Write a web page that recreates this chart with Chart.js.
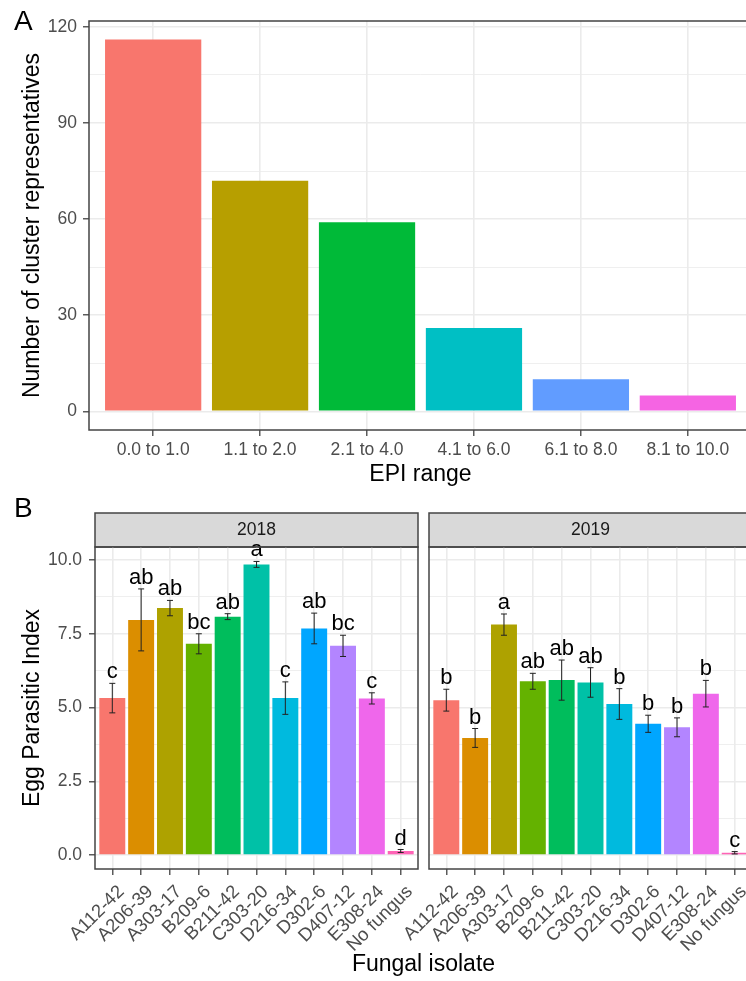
<!DOCTYPE html>
<html>
<head>
<meta charset="utf-8">
<title>EPI ranges and egg parasitic index</title>
<script src="https://cdn.jsdelivr.net/npm/chart.js@4.4.1/dist/chart.umd.min.js"></script>
<style>
  html, body { margin: 0; padding: 0; background: #fff; }
  #figure { position: relative; width: 746px; height: 981px; overflow: hidden; }
  #figure canvas, #figure .tag { position: absolute; display: block; }
  .tag { font-family: "Liberation Sans", Arial, sans-serif; color: #000; white-space: nowrap; }
</style>
</head>
<body>
<div id="figure">
  <canvas id="chartA" width="760" height="490" style="left:0;top:0"></canvas>
  <canvas id="chart2018" width="426" height="491" style="left:0;top:490px"></canvas>
  <canvas id="chart2019" width="381" height="491" style="left:380px;top:490px"></canvas>
  <div class="tag" style="left:14px;top:7px;font-size:28px;line-height:28px">A</div>
  <div class="tag" style="left:14px;top:494px;font-size:28px;line-height:28px">B</div>
  <div class="tag" style="left:95px;width:657px;text-align:center;top:952px;font-size:23px;line-height:22px">Fungal isolate</div>
</div>

<script>
// Panel A: cluster representatives per EPI range
const epiRanges = ['0.0 to 1.0', '1.1 to 2.0', '2.1 to 4.0', '4.1 to 6.0', '6.1 to 8.0', '8.1 to 10.0'];
const clusterCounts = [116, 72, 59, 26, 10, 5];
const rangeColors = ['#F8766D', '#B79F00', '#00BA38', '#00BFC4', '#619CFF', '#F564E3'];
const countTicks = [0, 30, 60, 90, 120];
const countMinorTicks = [15, 45, 75, 105];

// Panel B: egg parasitic index (mean, se) per fungal isolate and year
const isolates = ['A112-42', 'A206-39', 'A303-17', 'B209-6', 'B211-42', 'C303-20', 'D216-34', 'D302-6', 'D407-12', 'E308-24', 'No fungus'];
const isolateColors = ['#F8766D', '#DB8E00', '#AEA200', '#64B200', '#00BD5C', '#00C1A7', '#00BADE', '#00A6FF', '#B385FF', '#EF67EB', '#FF63B6'];
const epi2018 = [5.32, 7.97, 8.37, 7.16, 8.08, 9.85, 5.32, 7.68, 7.09, 5.31, 0.14];
const se2018 = [0.5, 1.05, 0.26, 0.34, 0.1, 0.1, 0.55, 0.52, 0.36, 0.19, 0.05];
const letters2018 = ['c', 'ab', 'ab', 'bc', 'ab', 'a', 'c', 'ab', 'bc', 'c', 'd'];
const epi2019 = [5.25, 3.97, 7.81, 5.89, 5.93, 5.85, 5.12, 4.45, 4.33, 5.47, 0.08];
const se2019 = [0.37, 0.32, 0.36, 0.27, 0.68, 0.5, 0.52, 0.29, 0.32, 0.45, 0.04];
const letters2019 = ['b', 'b', 'a', 'ab', 'ab', 'ab', 'b', 'b', 'b', 'b', 'c'];
const epiTicks = [0, 2.5, 5, 7.5, 10];
const epiTickLabels = ['0.0', '2.5', '5.0', '7.5', '10.0'];
const epiMinorTicks = [1.25, 3.75, 6.25, 8.75];

const FONT = '"Liberation Sans", Arial, sans-serif';
Chart.defaults.font.family = FONT;

// grey strip behind the facet title, and the panel border drawn on top
const panelDecor = {
  id: 'panelDecor',
  beforeDraw(chart, args, opts) {
    if (!opts.strip) return;
    const { left, right, top } = chart.chartArea;
    const ctx = chart.ctx;
    ctx.save();
    ctx.fillStyle = '#D9D9D9';
    ctx.fillRect(left, top - opts.strip, right - left, opts.strip);
    ctx.strokeStyle = '#444';
    ctx.lineWidth = 1.5;
    ctx.strokeRect(left, top - opts.strip, right - left, opts.strip);
    ctx.restore();
  },
  afterDraw(chart) {
    const { left, right, top, bottom } = chart.chartArea;
    const ctx = chart.ctx;
    ctx.save();
    ctx.strokeStyle = '#444';
    ctx.lineWidth = 1.5;
    ctx.strokeRect(left, top, right - left, bottom - top);
    ctx.restore();
  }
};

// mean +/- se whiskers and the significance letters above them
const errorBars = {
  id: 'errorBars',
  afterDatasetsDraw(chart, args, opts) {
    if (!opts.se) return;
    const { ctx, scales: { x, y } } = chart;
    ctx.save();
    ctx.strokeStyle = '#222';
    ctx.lineWidth = 1;
    ctx.fillStyle = '#000';
    ctx.font = '22px ' + FONT;
    ctx.textAlign = 'center';
    ctx.textBaseline = 'alphabetic';
    chart.data.datasets[0].data.forEach((pt, i) => {
      const px = x.getPixelForValue(pt.x);
      const hi = y.getPixelForValue(pt.y + opts.se[i]);
      const lo = y.getPixelForValue(pt.y - opts.se[i]);
      ctx.beginPath();
      ctx.moveTo(px, hi); ctx.lineTo(px, lo);
      ctx.moveTo(px - 3, hi); ctx.lineTo(px + 3, hi);
      ctx.moveTo(px - 3, lo); ctx.lineTo(px + 3, lo);
      ctx.stroke();
      ctx.fillText(opts.letters[i], px, hi - 5);
    });
    ctx.restore();
  }
};

function yGrid(minor, showTicks) {
  return {
    color: '#EBEBEB',
    lineWidth: c => (c.tick && minor.includes(c.tick.value)) ? 0.8 : 1.6,
    drawTicks: showTicks,
    tickLength: 6,
    tickWidth: 1.2,
    tickColor: c => (c.tick && minor.includes(c.tick.value)) ? 'rgba(0,0,0,0)' : '#333'
  };
}

function xGrid() {
  return { offset: false, color: '#EBEBEB', lineWidth: 1.6, tickLength: 6, tickWidth: 1.2, tickColor: '#333' };
}

// ---- Panel A ----
new Chart(document.getElementById('chartA'), {
  type: 'bar',
  data: {
    datasets: [{
      data: clusterCounts.map((v, i) => ({ x: i + 1, y: v })),
      backgroundColor: rangeColors,
      categoryPercentage: 1,
      barPercentage: 0.9
    }]
  },
  options: {
    responsive: false,
    animation: false,
    events: [],
    layout: { autoPadding: false, padding: { top: 21, right: 8, left: 0, bottom: 0 } },
    plugins: {
      legend: { display: false },
      tooltip: { enabled: false },
      panelDecor: { strip: 0 }
    },
    scales: {
      x: {
        type: 'linear',
        offset: false,
        min: 0.4,
        max: 6.6,
        afterBuildTicks: s => { s.ticks = epiRanges.map((_, i) => ({ value: i + 1 })); },
        afterFit: s => { s.height = 60; },
        ticks: { callback: v => epiRanges[v - 1], color: '#4D4D4D', font: { size: 17.5 }, padding: 4, maxRotation: 0, autoSkip: false },
        grid: xGrid(),
        border: { display: false },
        title: { display: true, text: 'EPI range', color: '#000', font: { size: 23 }, padding: { top: 0, bottom: 2 } }
      },
      y: {
        min: -5.8,
        max: 121.8,
        afterBuildTicks: s => { s.ticks = countTicks.concat(countMinorTicks).sort((a, b) => a - b).map(v => ({ value: v })); },
        afterFit: s => { s.width = 89; },
        ticks: { callback: v => countTicks.includes(v) ? String(v) : '', color: '#4D4D4D', font: { size: 17.5 }, padding: 6 },
        grid: yGrid(countMinorTicks, true),
        border: { display: false },
        title: { display: true, text: 'Number of cluster representatives', color: '#000', font: { size: 23 }, padding: { top: 19, bottom: 0 } }
      }
    }
  },
  plugins: [panelDecor]
});

// ---- Panel B, one chart per year ----
function yearChart(canvasId, year, values, se, letters, first) {
  return new Chart(document.getElementById(canvasId), {
    type: 'bar',
    data: {
      datasets: [{
        data: values.map((v, i) => ({ x: i + 1, y: v })),
        backgroundColor: isolateColors,
        categoryPercentage: 1,
        barPercentage: 0.9
      }]
    },
    options: {
      responsive: false,
      animation: false,
      events: [],
      layout: { autoPadding: false, padding: { top: 23, right: first ? 8 : 9, left: 0, bottom: 0 } },
      plugins: {
        legend: { display: false },
        tooltip: { enabled: false },
        title: {
          display: true,
          text: year,
          fullSize: false,
          position: 'top',
          color: '#1A1A1A',
          font: { size: 17.5, weight: 'normal' },
          padding: { top: 6.5, bottom: 6.5 }
        },
        panelDecor: { strip: 34 },
        errorBars: { se: se, letters: letters }
      },
      scales: {
        x: {
          type: 'linear',
          offset: false,
          min: 0.4,
          max: 11.6,
          afterBuildTicks: s => { s.ticks = isolates.map((_, i) => ({ value: i + 1 })); },
          afterFit: s => { s.height = 112; },
          ticks: {
            callback: v => isolates[v - 1],
            color: '#4D4D4D',
            font: { size: 18.5 },
            padding: 6,
            labelOffset: 9,
            minRotation: 45,
            maxRotation: 45,
            autoSkip: false
          },
          grid: xGrid(),
          border: { display: false }
        },
        y: {
          min: -0.47,
          max: 10.44,
          afterBuildTicks: s => { s.ticks = epiTicks.concat(epiMinorTicks).sort((a, b) => a - b).map(v => ({ value: v })); },
          afterFit: s => { s.width = first ? 95 : 49; },
          ticks: {
            display: first,
            callback: v => epiTicks.includes(v) ? epiTickLabels[epiTicks.indexOf(v)] : '',
            color: '#4D4D4D',
            font: { size: 17.5 },
            padding: 7
          },
          grid: yGrid(epiMinorTicks, first),
          border: { display: false },
          title: { display: first, text: 'Egg Parasitic Index', color: '#000', font: { size: 23 }, padding: { top: 19, bottom: 0 } }
        }
      }
    },
    plugins: [panelDecor, errorBars]
  });
}

yearChart('chart2018', '2018', epi2018, se2018, letters2018, true);
yearChart('chart2019', '2019', epi2019, se2019, letters2019, false);
</script>
</body>
</html>
